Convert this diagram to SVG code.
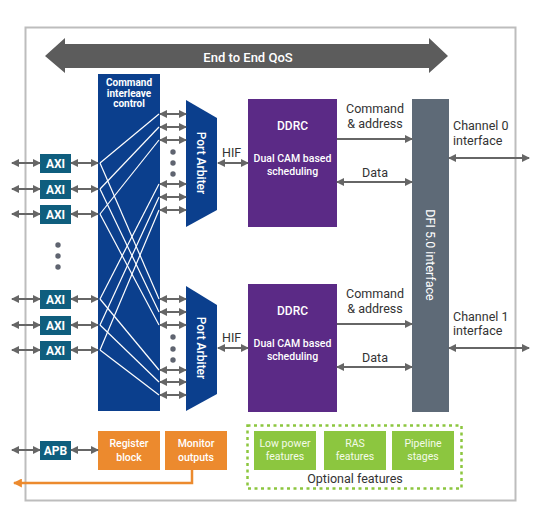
<svg xmlns="http://www.w3.org/2000/svg" width="548" height="526" viewBox="0 0 548 526">
<defs>
<marker id="ah" viewBox="0 0 8 8" refX="7" refY="4" markerWidth="8" markerHeight="8" markerUnits="userSpaceOnUse" orient="auto-start-reverse">
<path d="M0,0 L8,4 L0,8 z" fill="#666"/>
</marker>
<marker id="oh" viewBox="0 0 8 8" refX="7" refY="4" markerWidth="9" markerHeight="9" markerUnits="userSpaceOnUse" orient="auto-start-reverse">
<path d="M0,0 L8,4 L0,8 z" fill="#ec8a2e"/>
</marker>
<style>
.t{font-family:Roboto,"Liberation Sans",sans-serif}
.w{fill:#fff}
.b{font-weight:700}
.m{font-weight:500}
.dk{fill:#333}
.a2{stroke:#666;stroke-width:2;fill:none;marker-start:url(#ah);marker-end:url(#ah)}
.a1{stroke:#666;stroke-width:2;fill:none;marker-end:url(#ah)}
.x{stroke:#fff;stroke-width:1.2;fill:none}
.axi{fill:#0f5e7e}
.blue{fill:#0b3f8d}
.pur{fill:#5b2a86}
.org{fill:#ec8a2e}
.grn{fill:#8cc63f}
.dot{fill:#5f6470}
</style>
</defs>
<rect width="548" height="526" fill="#fff"/>
<rect id="frame" x="25.5" y="27.5" width="490" height="473" fill="none" stroke="#bdbdbd" stroke-width="2"/>

<g id="qos">
<path d="M45,56 L65,38 L65,44 L429,44 L429,38 L448,56 L429,73 L429,68 L65,68 L65,73 z" fill="#5c5c5c"/>
<text class="t w m" x="248" y="62" font-size="13" text-anchor="middle">End to End QoS</text>
</g>

<g id="interleave">
<rect class="blue" x="98" y="74" width="62" height="337"/>
<text class="t w b" font-size="10" text-anchor="middle"><tspan x="129" y="86">Command</tspan><tspan x="129" y="97">interleave</tspan><tspan x="129" y="107">control</tspan></text>
</g>

<g id="port-arbiter-0">
<path class="blue" d="M186,100 L217,118 L217,210 L186,227 z"/>
<text class="t w m" font-size="12" text-anchor="middle" transform="translate(197,163) rotate(90)">Port Arbiter</text>
</g>
<g id="port-arbiter-1">
<path class="blue" d="M186,286 L217,305 L217,394 L186,411 z"/>
<text class="t w m" font-size="12" text-anchor="middle" transform="translate(197,348) rotate(90)">Port Arbiter</text>
</g>

<g id="axi-ports">
<rect class="axi" x="40" y="154" width="31" height="19"/>
<rect class="axi" x="40" y="180" width="31" height="19"/>
<rect class="axi" x="40" y="205" width="31" height="19"/>
<rect class="axi" x="40" y="290" width="31" height="19"/>
<rect class="axi" x="40" y="316" width="31" height="19"/>
<rect class="axi" x="40" y="341" width="31" height="19"/>
<g class="t w b" font-size="12" text-anchor="middle">
<text x="55.5" y="168">AXI</text>
<text x="55.5" y="194">AXI</text>
<text x="55.5" y="219">AXI</text>
<text x="55.5" y="304">AXI</text>
<text x="55.5" y="330">AXI</text>
<text x="55.5" y="355">AXI</text>
</g>
<circle class="dot" cx="58" cy="245" r="2.7"/>
<circle class="dot" cx="58" cy="256" r="2.7"/>
<circle class="dot" cx="58" cy="267" r="2.7"/>
</g>

<g id="apb">
<rect class="axi" x="40" y="441" width="31" height="19"/>
<text class="t w b" font-size="12" text-anchor="middle" x="55.5" y="455">APB</text>
</g>

<g id="ddrc-0">
<rect class="pur" x="248" y="99" width="89" height="128"/>
<text class="t w m" font-size="12" text-anchor="middle" x="292.5" y="130">DDRC</text>
<text class="t w m" font-size="10.5" text-anchor="middle"><tspan x="292.5" y="162">Dual CAM based</tspan><tspan x="292.5" y="175">scheduling</tspan></text>
</g>
<g id="ddrc-1">
<rect class="pur" x="248" y="284" width="89" height="128"/>
<text class="t w m" font-size="12" text-anchor="middle" x="292.5" y="315">DDRC</text>
<text class="t w m" font-size="10.5" text-anchor="middle"><tspan x="292.5" y="347">Dual CAM based</tspan><tspan x="292.5" y="360">scheduling</tspan></text>
</g>

<g id="dfi">
<rect x="412" y="99" width="37" height="313" fill="#5e6a77"/>
<text class="t w" font-size="12.5" text-anchor="middle" transform="translate(426,255) rotate(90)">DFI 5.0 interface</text>
</g>

<g id="register-block">
<rect class="org" x="98" y="431" width="62" height="39"/>
<text class="t w m" font-size="10.5" text-anchor="middle"><tspan x="129" y="447">Register</tspan><tspan x="129" y="461">block</tspan></text>
</g>
<g id="monitor-outputs">
<rect class="org" x="165" y="431" width="62" height="39"/>
<text class="t w m" font-size="10.5" text-anchor="middle"><tspan x="196" y="447">Monitor</tspan><tspan x="196" y="461">outputs</tspan></text>
</g>

<g id="optional-features">
<rect x="247.5" y="425.5" width="214" height="63" fill="none" stroke="#8cc63f" stroke-width="2.5" stroke-dasharray="3,3.5"/>
<rect class="grn" x="254" y="431" width="62" height="39"/>
<rect class="grn" x="324" y="431" width="62" height="39"/>
<rect class="grn" x="392" y="431" width="62" height="39"/>
<g class="t" font-size="10.5" fill="#f4fbe9" text-anchor="middle">
<text><tspan x="285" y="447">Low power</tspan><tspan x="285" y="460">features</tspan></text>
<text><tspan x="355" y="447">RAS</tspan><tspan x="355" y="460">features</tspan></text>
<text><tspan x="423" y="447">Pipeline</tspan><tspan x="423" y="460">stages</tspan></text>
</g>
<text class="t dk" font-size="12.5" text-anchor="middle" x="355" y="483">Optional features</text>
</g>

<g id="labels" class="t dk" font-size="12.5">
<text x="222" y="157">HIF</text>
<text x="222" y="342">HIF</text>
<text text-anchor="middle"><tspan x="375" y="113">Command</tspan><tspan x="375" y="128">&amp; address</tspan></text>
<text text-anchor="middle" x="375" y="177">Data</text>
<text text-anchor="middle"><tspan x="375" y="298">Command</tspan><tspan x="375" y="313">&amp; address</tspan></text>
<text text-anchor="middle" x="375" y="362">Data</text>
<text><tspan x="453" y="130">Channel 0</tspan><tspan x="453" y="145">interface</tspan></text>
<text><tspan x="453" y="321">Channel 1</tspan><tspan x="453" y="335">interface</tspan></text>
</g>

<g id="connectors">
<g id="crossbar">
<line class="x" x1="100" y1="163" x2="159" y2="114"/>
<line class="x" x1="100" y1="189" x2="159" y2="127"/>
<line class="x" x1="100" y1="214" x2="159" y2="140"/>
<line class="x" x1="100" y1="163" x2="159" y2="299"/>
<line class="x" x1="100" y1="189" x2="159" y2="312"/>
<line class="x" x1="100" y1="214" x2="159" y2="325"/>
<line class="x" x1="100" y1="299" x2="159" y2="184"/>
<line class="x" x1="100" y1="325" x2="159" y2="197"/>
<line class="x" x1="100" y1="350" x2="159" y2="210"/>
<line class="x" x1="100" y1="299" x2="159" y2="370"/>
<line class="x" x1="100" y1="325" x2="159" y2="382"/>
<line class="x" x1="100" y1="350" x2="159" y2="395"/>
</g>
<g id="axi-links">
<line class="a2" x1="12" y1="163" x2="40" y2="163"/>
<line class="a2" x1="71" y1="163" x2="98" y2="163"/>
<line class="a2" x1="12" y1="189" x2="40" y2="189"/>
<line class="a2" x1="71" y1="189" x2="98" y2="189"/>
<line class="a2" x1="12" y1="214" x2="40" y2="214"/>
<line class="a2" x1="71" y1="214" x2="98" y2="214"/>
<line class="a2" x1="12" y1="299" x2="40" y2="299"/>
<line class="a2" x1="71" y1="299" x2="98" y2="299"/>
<line class="a2" x1="12" y1="325" x2="40" y2="325"/>
<line class="a2" x1="71" y1="325" x2="98" y2="325"/>
<line class="a2" x1="12" y1="350" x2="40" y2="350"/>
<line class="a2" x1="71" y1="350" x2="98" y2="350"/>
<line class="a2" x1="12" y1="450" x2="40" y2="450"/>
<line class="a2" x1="71" y1="450" x2="98" y2="450"/>
</g>
<g id="arbiter-links">
<line class="a2" x1="160" y1="114" x2="186" y2="114"/>
<line class="a2" x1="160" y1="127" x2="186" y2="127"/>
<line class="a2" x1="160" y1="140" x2="186" y2="140"/>
<line class="a2" x1="160" y1="184" x2="186" y2="184"/>
<line class="a2" x1="160" y1="197" x2="186" y2="197"/>
<line class="a2" x1="160" y1="210" x2="186" y2="210"/>
<line class="a2" x1="160" y1="299" x2="186" y2="299"/>
<line class="a2" x1="160" y1="312" x2="186" y2="312"/>
<line class="a2" x1="160" y1="325" x2="186" y2="325"/>
<line class="a2" x1="160" y1="370" x2="186" y2="370"/>
<line class="a2" x1="160" y1="382" x2="186" y2="382"/>
<line class="a2" x1="160" y1="395" x2="186" y2="395"/>
<circle class="dot" cx="173" cy="152" r="2.7"/>
<circle class="dot" cx="173" cy="163" r="2.7"/>
<circle class="dot" cx="173" cy="174" r="2.7"/>
<circle class="dot" cx="173" cy="337" r="2.7"/>
<circle class="dot" cx="173" cy="349" r="2.7"/>
<circle class="dot" cx="173" cy="360" r="2.7"/>
</g>
<line class="a2" x1="218" y1="163" x2="248" y2="163"/>
<line class="a2" x1="218" y1="348" x2="248" y2="348"/>
<line class="a1" x1="337" y1="139" x2="412" y2="139"/>
<line class="a2" x1="337" y1="182" x2="412" y2="182"/>
<line class="a1" x1="337" y1="324" x2="412" y2="324"/>
<line class="a2" x1="337" y1="367" x2="412" y2="367"/>
<line class="a2" x1="449" y1="158" x2="529" y2="158"/>
<line class="a2" x1="449" y1="348" x2="529" y2="348"/>
<path d="M192,470 V483 H14" fill="none" stroke="#ec8a2e" stroke-width="2.5" marker-end="url(#oh)"/>
</g>
</svg>
